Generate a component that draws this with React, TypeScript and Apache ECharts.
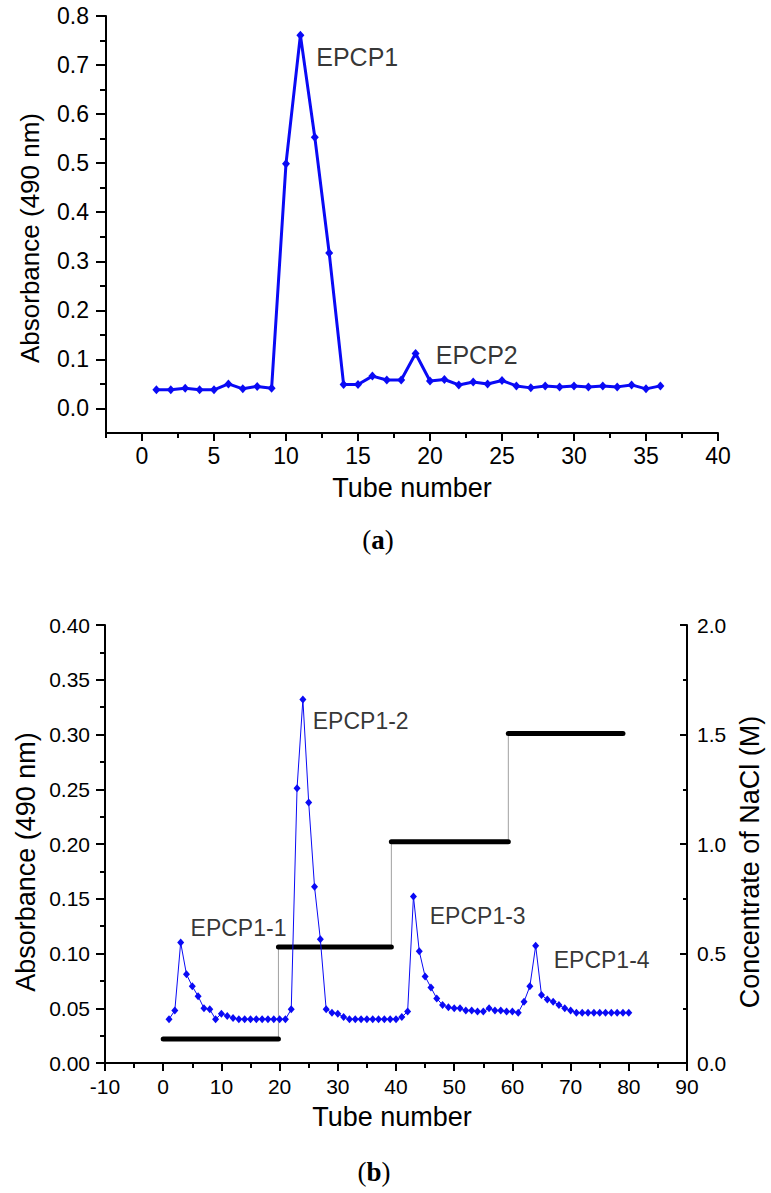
import React, { useEffect, useRef } from "react";
import * as echarts from "echarts";

// ---------- Panel (a) data ----------
const tubesA = [1, 2, 3, 4, 5, 6, 7, 8, 9, 10, 11, 12, 13, 14, 15, 16, 17, 18, 19, 20, 21, 22, 23, 24, 25, 26, 27, 28, 29, 30, 31, 32, 33, 34, 35, 36];
const absorbanceA = [
  0.038, 0.038, 0.041, 0.038, 0.038, 0.050, 0.040, 0.045, 0.041, 0.499,
  0.761, 0.553, 0.317, 0.049, 0.049, 0.066, 0.058, 0.058, 0.112, 0.056,
  0.059, 0.048, 0.054, 0.050, 0.057, 0.046, 0.042, 0.046, 0.044, 0.046,
  0.044, 0.046, 0.044, 0.048, 0.040, 0.046,
];
const xTickLabelsA = [0, 5, 10, 15, 20, 25, 30, 35, 40];
const xMinorTicksA = [-2.5, 2.5, 7.5, 12.5, 17.5, 22.5, 27.5, 32.5, 37.5];
const yTickLabelsA = [0.0, 0.1, 0.2, 0.3, 0.4, 0.5, 0.6, 0.7, 0.8];
const yMinorTicksA = [0.05, 0.15, 0.25, 0.35, 0.45, 0.55, 0.65, 0.75];
const peakNamesA = ["EPCP1", "EPCP2"];
const peakLabelXA = [12.1, 20.4];
const peakLabelYA = [0.716, 0.109];

// ---------- Panel (b) data ----------
const tubesB = [
  1, 2, 3, 4, 5, 6, 7, 8, 9, 10, 11, 12, 13, 14, 15, 16, 17, 18, 19, 20,
  21, 22, 23, 24, 25, 26, 27, 28, 29, 30, 31, 32, 33, 34, 35, 36, 37, 38, 39, 40,
  41, 42, 43, 44, 45, 46, 47, 48, 49, 50, 51, 52, 53, 54, 55, 56, 57, 58, 59, 60,
  61, 62, 63, 64, 65, 66, 67, 68, 69, 70, 71, 72, 73, 74, 75, 76, 77, 78, 79, 80,
];
const absorbanceB = [
  0.040, 0.048, 0.110, 0.081, 0.070, 0.061, 0.050, 0.049, 0.040, 0.045,
  0.043, 0.041, 0.040, 0.040, 0.040, 0.040, 0.040, 0.040, 0.040, 0.040,
  0.040, 0.049, 0.251, 0.332, 0.238, 0.161, 0.113, 0.049, 0.046, 0.045,
  0.042, 0.040, 0.040, 0.040, 0.040, 0.040, 0.040, 0.040, 0.040, 0.040,
  0.042, 0.047, 0.152, 0.102, 0.079, 0.069, 0.059, 0.053, 0.051, 0.050,
  0.050, 0.048, 0.048, 0.047, 0.047, 0.050, 0.048, 0.048, 0.047, 0.047,
  0.046, 0.056, 0.070, 0.107, 0.062, 0.058, 0.056, 0.053, 0.050, 0.048,
  0.046, 0.046, 0.046, 0.046, 0.046, 0.046, 0.046, 0.046, 0.046, 0.046,
];
const naclStepStart = [0, 19.8, 39.2, 59.3];
const naclStepEnd = [19.8, 39.2, 59.3, 79];
const naclLevel = [0.11, 0.53, 1.01, 1.505];
const peakNamesB = ["EPCP1-1", "EPCP1-2", "EPCP1-3", "EPCP1-4"];
const peakLabelXB = [4.7, 25.7, 45.8, 67.1];
const peakLabelYB = [0.123, 0.312, 0.1345, 0.094];

const FONT = "'Liberation Sans', Arial, sans-serif";
const SERIF = "'Liberation Serif', 'DejaVu Serif', serif";
const BLUE = "#0a0af5";

export default function App() {
  const ref = useRef<HTMLDivElement>(null);

  useEffect(() => {
    document.body.style.margin = "0";
    const chart = echarts.init(ref.current!, undefined, { renderer: "svg" });

    const tickLabelA = { color: "#000", fontFamily: FONT, fontSize: 23 };
    const tickLabelB = { color: "#000", fontFamily: FONT, fontSize: 21 };
    const axisLine = { show: true, onZero: false, lineStyle: { color: "#000", width: 2 } };
    const tickStyle = { width: 2, color: "#000" };

    const seriesA = tubesA.map((t, i) => [t, absorbanceA[i]]);
    const seriesB = tubesB.map((t, i) => [t, absorbanceB[i]]);

    const stepSeries = naclLevel.map((lv, i) => ({
      type: "line",
      xAxisIndex: 2,
      yAxisIndex: 3,
      data: [
        [naclStepStart[i], lv],
        [naclStepEnd[i], lv],
      ],
      symbol: "none",
      lineStyle: { color: "#000", width: 5, cap: "round" },
      silent: true,
      z: 3,
    }));
    const connectorSeries = naclLevel.slice(1).map((lv, i) => ({
      type: "line",
      xAxisIndex: 2,
      yAxisIndex: 3,
      data: [
        [naclStepStart[i + 1], naclLevel[i]],
        [naclStepStart[i + 1], lv],
      ],
      symbol: "none",
      lineStyle: { color: "#a0a0a0", width: 1 },
      silent: true,
      z: 2,
    }));

    const annotationLabel = (size: number) => ({
      show: true,
      position: "right",
      distance: 0,
      color: "#000",
      fontFamily: FONT,
      fontSize: size,
      formatter: (p: any) => p.name,
    });

    const titleText = (text: string, x: number, y: number, size: number, rotation = 0) => ({
      type: "text",
      x,
      y,
      rotation,
      style: { text, fill: "#000", font: `${size}px ${FONT}`, align: "center", verticalAlign: "middle" },
    });
    const panelText = (letter: string, x: number, y: number) => ({
      type: "text",
      x,
      y,
      style: {
        text: `{n|(}{b|${letter}}{n|)}`,
        align: "center",
        verticalAlign: "middle",
        rich: {
          n: { fontSize: 27, fontFamily: SERIF, fill: "#000" },
          b: { fontSize: 27, fontFamily: SERIF, fontWeight: "bold", fill: "#000" },
        },
      },
    });

    const option: any = {
      animation: false,
      backgroundColor: "#fff",
      grid: [
        { left: 106, top: 16, width: 612, height: 417, outerBoundsMode: "none", containLabel: false },
        { left: 105, top: 625, width: 582, height: 438, outerBoundsMode: "none", containLabel: false },
      ],
      xAxis: [
        {
          gridIndex: 0,
          type: "value",
          position: "bottom",
          min: -2.5,
          max: 40,
          axisLine,
          splitLine: { show: false },
          axisTick: { show: true, length: 8, lineStyle: tickStyle, customValues: xTickLabelsA },
          axisLabel: { ...tickLabelA, margin: 11, customValues: xTickLabelsA },
        },
        {
          gridIndex: 0,
          type: "value",
          position: "bottom",
          min: -2.5,
          max: 40,
          axisLine: { show: false, onZero: false },
          splitLine: { show: false },
          axisTick: { show: true, length: 5, lineStyle: tickStyle, customValues: xMinorTicksA },
          axisLabel: { show: false },
        },
        {
          gridIndex: 1,
          type: "value",
          position: "bottom",
          min: -10,
          max: 90,
          interval: 10,
          axisLine,
          splitLine: { show: false },
          axisTick: { show: true, length: 8, lineStyle: tickStyle },
          minorTick: { show: true, splitNumber: 2, length: 5, lineStyle: tickStyle },
          axisLabel: { ...tickLabelB, margin: 13 },
        },
      ],
      yAxis: [
        {
          gridIndex: 0,
          type: "value",
          position: "left",
          min: -0.05,
          max: 0.8,
          axisLine,
          splitLine: { show: false },
          axisTick: { show: true, length: 10, lineStyle: tickStyle, customValues: yTickLabelsA },
          axisLabel: { ...tickLabelA, margin: 17, customValues: yTickLabelsA, formatter: (v: number) => v.toFixed(1) },
        },
        {
          gridIndex: 0,
          type: "value",
          position: "left",
          min: -0.05,
          max: 0.8,
          axisLine: { show: false, onZero: false },
          splitLine: { show: false },
          axisTick: { show: true, length: 6, lineStyle: tickStyle, customValues: yMinorTicksA },
          axisLabel: { show: false },
        },
        {
          gridIndex: 1,
          type: "value",
          position: "left",
          min: 0,
          max: 0.4,
          interval: 0.05,
          axisLine,
          splitLine: { show: false },
          axisTick: { show: true, length: 9, lineStyle: tickStyle },
          minorTick: { show: true, splitNumber: 2, length: 5, lineStyle: tickStyle },
          axisLabel: { ...tickLabelB, margin: 15, formatter: (v: number) => v.toFixed(2) },
        },
        {
          gridIndex: 1,
          type: "value",
          position: "right",
          min: 0,
          max: 2,
          interval: 0.5,
          axisLine,
          splitLine: { show: false },
          axisTick: { show: true, inside: true, length: 7, lineStyle: tickStyle },
          minorTick: { show: true, splitNumber: 2, length: 4, lineStyle: tickStyle },
          axisLabel: { ...tickLabelB, margin: 10, formatter: (v: number) => v.toFixed(1) },
        },
      ],
      series: [
        {
          type: "line",
          xAxisIndex: 0,
          yAxisIndex: 0,
          data: seriesA,
          symbol: "diamond",
          symbolSize: [8, 9],
          itemStyle: { color: BLUE },
          lineStyle: { color: BLUE, width: 3 },
          z: 3,
        },
        {
          type: "scatter",
          xAxisIndex: 0,
          yAxisIndex: 0,
          symbolSize: 0,
          data: peakNamesA.map((n, i) => ({ name: n, value: [peakLabelXA[i], peakLabelYA[i]] })),
          label: annotationLabel(25),
          silent: true,
        },
        ...connectorSeries,
        ...stepSeries,
        {
          type: "line",
          xAxisIndex: 2,
          yAxisIndex: 2,
          data: seriesB,
          symbol: "diamond",
          symbolSize: [7, 8],
          itemStyle: { color: BLUE },
          lineStyle: { color: BLUE, width: 1 },
          z: 4,
        },
        {
          type: "scatter",
          xAxisIndex: 2,
          yAxisIndex: 2,
          symbolSize: 0,
          data: peakNamesB.map((n, i) => ({ name: n, value: [peakLabelXB[i], peakLabelYB[i]] })),
          label: annotationLabel(23),
          silent: true,
        },
      ],
      graphic: [
        titleText("Absorbance (490 nm)", 30, 238, 26, Math.PI / 2),
        titleText("Tube number", 412, 488, 27),
        panelText("a", 378, 540),
        titleText("Absorbance (490 nm)", 26, 862, 27, Math.PI / 2),
        titleText("Concentrate of NaCl (M)", 750, 862, 27, Math.PI / 2),
        titleText("Tube number", 392, 1117, 27),
        panelText("b", 374, 1172),
      ],
    };

    chart.setOption(option);
    return () => chart.dispose();
  }, []);

  return <div ref={ref} style={{ width: 771, height: 1193 }} />;
}
